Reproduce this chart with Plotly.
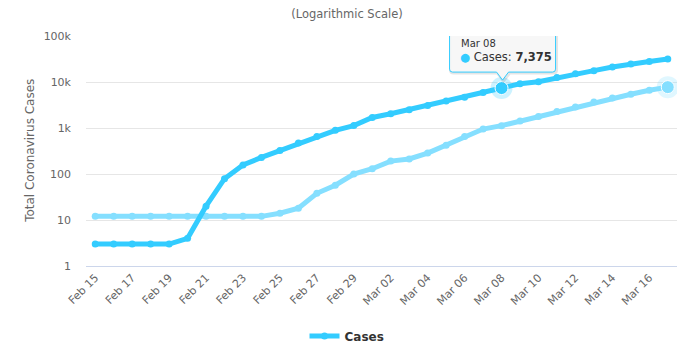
import numpy as np
import plotly.graph_objects as go

dates = ["2020-02-15", "2020-02-16", "2020-02-17", "2020-02-18", "2020-02-19", "2020-02-20",
         "2020-02-21", "2020-02-22", "2020-02-23", "2020-02-24", "2020-02-25", "2020-02-26",
         "2020-02-27", "2020-02-28", "2020-02-29", "2020-03-01", "2020-03-02", "2020-03-03",
         "2020-03-04", "2020-03-05", "2020-03-06", "2020-03-07", "2020-03-08", "2020-03-09",
         "2020-03-10", "2020-03-11", "2020-03-12", "2020-03-13", "2020-03-14", "2020-03-15",
         "2020-03-16", "2020-03-17"]
cases_main = [3, 3, 3, 3, 3, 4, 20, 79, 157, 229, 323, 470, 655, 889, 1128, 1694, 2036, 2502,
              3089, 3858, 4636, 5883, 7375, 9172, 10149, 12462, 15113, 17660, 21157, 24747,
              27980, 31506]
cases_other = [12, 12, 12, 12, 12, 12, 12, 12, 12, 12, 14, 18, 38, 57, 100, 130, 191, 212,
               285, 423, 653, 949, 1126, 1412, 1784, 2281, 2876, 3661, 4499, 5423, 6633, 7730]
ytick_vals = [1, 10, 100, 1000, 10000, 100000]
ytick_text = ["1", "10", "100", "1k", "10k", "100k"]

DARK = "#33ccff"
LIGHT = "#85dfff"
FONT = "DejaVu Sans"
hi = 22  # hovered point (Mar 08)

fig = go.Figure()
fig.add_trace(go.Scatter(x=dates, y=cases_other, mode="lines+markers", showlegend=False,
                         line=dict(color=LIGHT, width=5), marker=dict(size=7, color=LIGHT)))
fig.add_trace(go.Scatter(x=dates, y=cases_main, mode="lines+markers", name="Cases",
                         line=dict(color=DARK, width=5), marker=dict(size=7, color=DARK)))
# halos / highlighted points
fig.add_trace(go.Scatter(x=[dates[-1]], y=[cases_other[-1]], mode="markers", showlegend=False,
                         marker=dict(size=22, color=LIGHT, opacity=0.25)))
fig.add_trace(go.Scatter(x=[dates[-1]], y=[cases_other[-1]], mode="markers", showlegend=False,
                         marker=dict(size=13, color=LIGHT, line=dict(color="white", width=1))))
fig.add_trace(go.Scatter(x=[dates[hi]], y=[cases_main[hi]], mode="markers", showlegend=False,
                         marker=dict(size=22, color=DARK, opacity=0.25)))
fig.add_trace(go.Scatter(x=[dates[hi]], y=[cases_main[hi]], mode="markers", showlegend=False,
                         marker=dict(size=13, color=DARK, line=dict(color="white", width=1))))

# tooltip callout (pixel offsets relative to the hovered point)
def callout(dx=0, dy=0):
    pts = [("M", -49, 62), ("L", 51, 62), ("Q", 54, 62, 54, 59), ("L", 54, 19),
           ("Q", 54, 16, 51, 16), ("L", 7, 16), ("L", 1, 8), ("L", -5, 16), ("L", -49, 16),
           ("Q", -52, 16, -52, 19), ("L", -52, 59), ("Q", -52, 62, -49, 62)]
    out = []
    for p in pts:
        cmd, nums = p[0], p[1:]
        coords = []
        for i in range(0, len(nums), 2):
            coords.append(f"{nums[i] + dx},{nums[i + 1] + dy}")
        out.append(cmd + " " + " ".join(coords))
    return " ".join(out) + " Z"

fig.add_shape(type="path", xref="x", yref="y", xsizemode="pixel", ysizemode="pixel",
              xanchor=dates[hi], yanchor=cases_main[hi], path=callout(1, -1),
              fillcolor="rgba(0,0,0,0)", line=dict(color="rgba(0,0,0,0.10)", width=3),
              layer="above")
fig.add_shape(type="path", xref="x", yref="y", xsizemode="pixel", ysizemode="pixel",
              xanchor=dates[hi], yanchor=cases_main[hi], path=callout(),
              fillcolor="rgba(247,247,247,0.95)", line=dict(color=DARK, width=1), layer="above")
ylog = float(np.log10(cases_main[hi]))
fig.add_annotation(x=dates[hi], y=ylog, xref="x", yref="y", showarrow=False,
                   text="Mar 08", font=dict(family=FONT, size=10, color="#333333"),
                   xanchor="left", yanchor="middle", xshift=-43, yshift=45)
fig.add_annotation(x=dates[hi], y=ylog, xref="x", yref="y", showarrow=False,
                   text=f"<span style='color:{DARK}'>●</span> Cases: <b>{cases_main[hi]:,}</b>",
                   font=dict(family=FONT, size=11.5, color="#333333"),
                   xanchor="left", yanchor="middle", xshift=-44, yshift=31)

# y axis title
fig.add_annotation(x=-0.095, y=0.5, xref="paper", yref="paper", showarrow=False,
                   text="Total Coronavirus Cases", textangle=-90,
                   font=dict(family=FONT, size=12, color="#666666"),
                   xanchor="center", yanchor="middle")

fig.update_layout(
    width=694, height=351,
    margin=dict(l=86, r=17, t=36, b=85),
    paper_bgcolor="white", plot_bgcolor="white",
    font=dict(family=FONT, size=11, color="#666666"),
    title=dict(text="(Logarithmic Scale)", x=0.5, xanchor="center", y=1 - 14 / 351,
               yanchor="middle", font=dict(family=FONT, size=11.5, color="#666666")),
    legend=dict(orientation="h", xref="container", yref="container", x=0.5, xanchor="center",
                y=1 - 336 / 351, yanchor="middle",
                font=dict(family=FONT, size=12, color="#333333", weight="bold")),
    hovermode=False,
)
fig.update_xaxes(type="date", range=["2020-02-14 12:00", "2020-03-17 12:00"],
                 tick0="2020-02-15", dtick=2 * 86400000, tickformat="%b %d", tickangle=-45,
                 showgrid=False, showline=True, linecolor="#ccd6eb", linewidth=1,
                 ticks="", zeroline=False, automargin=False,
                 tickfont=dict(family=FONT, size=11, color="#666666"))
fig.update_yaxes(type="log", range=[0, 5], tickvals=ytick_vals, ticktext=ytick_text,
                 showgrid=True, gridcolor="#e6e6e6", gridwidth=1, showline=False,
                 zeroline=False, ticks="", ticklabelstandoff=14, automargin=False,
                 tickfont=dict(family=FONT, size=11, color="#666666"))

fig.write_html("out.html")
